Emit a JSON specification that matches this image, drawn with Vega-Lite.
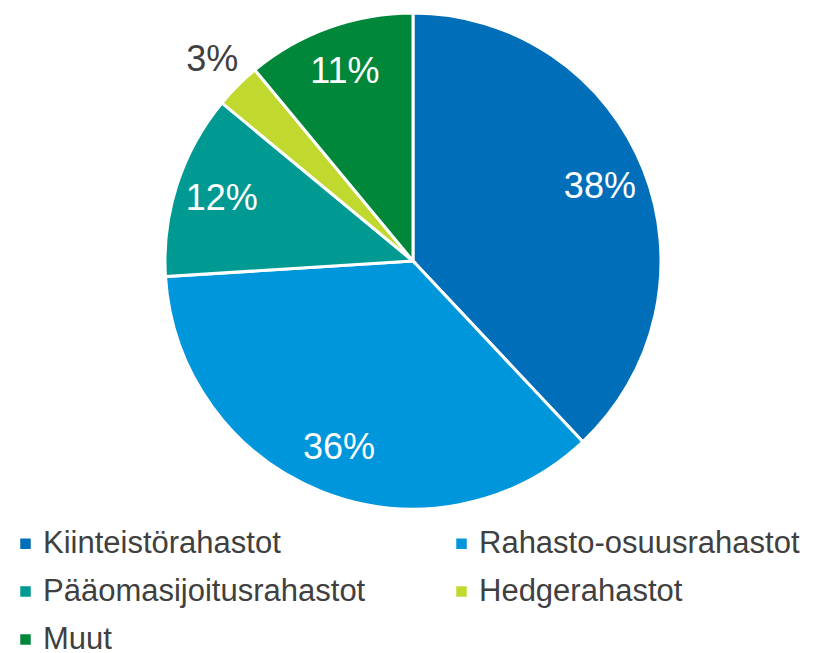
{
  "$schema": "https://vega.github.io/schema/vega-lite/v6.json",
  "width": 818,
  "height": 522,
  "padding": {"left": 4, "top": 0, "right": 0, "bottom": 131},
  "autosize": {"type": "none"},
  "background": "white",
  "config": {"view": {"stroke": null}, "font": "Liberation Sans"},
  "data": {
    "values": [
      {"category": "Kiinteistörahastot", "value": 38, "label": "38%", "rank": 1},
      {"category": "Rahasto-osuusrahastot", "value": 36, "label": "36%", "rank": 2},
      {"category": "Pääomasijoitusrahastot", "value": 12, "label": "12%", "rank": 3},
      {"category": "Hedgerahastot", "value": 3, "label": "3%", "rank": 4},
      {"category": "Muut", "value": 11, "label": "11%", "rank": 5}
    ]
  },
  "encoding": {
    "theta": {"field": "value", "type": "quantitative", "stack": true},
    "order": {"field": "rank", "type": "quantitative"}
  },
  "layer": [
    {
      "mark": {"type": "arc", "outerRadius": 248, "stroke": "white", "strokeWidth": 3},
      "encoding": {
        "color": {
          "field": "category",
          "type": "nominal",
          "sort": ["Kiinteistörahastot", "Rahasto-osuusrahastot", "Pääomasijoitusrahastot", "Hedgerahastot", "Muut"],
          "scale": {
            "domain": ["Kiinteistörahastot", "Rahasto-osuusrahastot", "Pääomasijoitusrahastot", "Hedgerahastot", "Muut"],
            "range": ["#006EB8", "#0096DB", "#009A93", "#C1D82F", "#00873A"]
          },
          "legend": {
            "title": null,
            "orient": "bottom",
            "direction": "horizontal",
            "columns": 2,
            "columnPadding": 74,
            "rowPadding": 16,
            "offset": 6,
            "padding": 0,
            "symbolType": "square",
            "symbolSize": 110,
            "symbolStrokeWidth": 0,
            "symbolOffset": 6,
            "labelFontSize": 31,
            "labelColor": "#404040",
            "labelFont": "Liberation Sans",
            "labelOffset": 2,
            "labelLimit": 400
          }
        }
      }
    },
    {
      "mark": {"type": "text", "radius": 201, "fontSize": 36, "color": "white", "font": "Liberation Sans"},
      "encoding": {"text": {"condition": {"test": "datum.value >= 5", "field": "label"}, "value": ""}}
    },
    {
      "mark": {"type": "text", "radius": 284, "fontSize": 36, "color": "#404040", "font": "Liberation Sans"},
      "encoding": {"text": {"condition": {"test": "datum.value < 5", "field": "label"}, "value": ""}}
    }
  ]
}
